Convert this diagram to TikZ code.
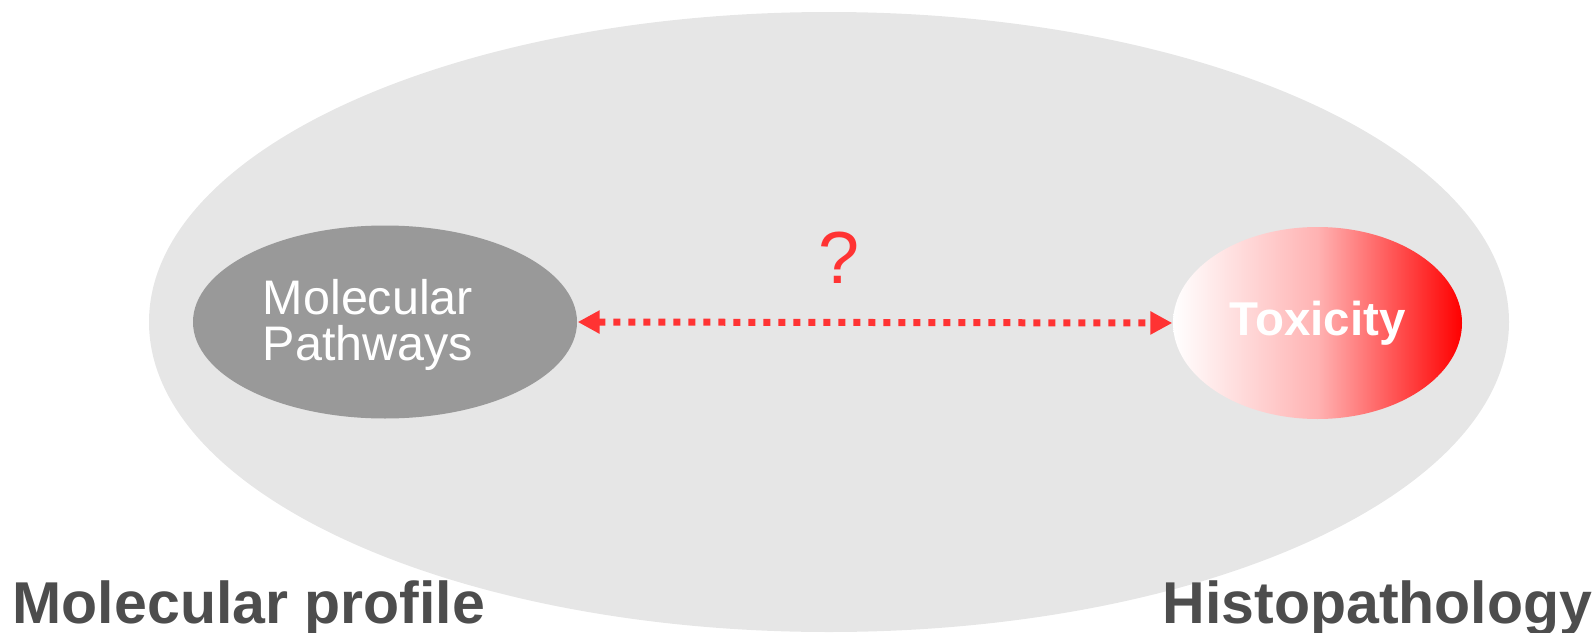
\documentclass[tikz,border=0pt]{standalone}
\usepackage{fontspec}
\setmainfont{Liberation Sans}
\usepackage{tikz}
\usetikzlibrary{arrows.meta,positioning,shapes.geometric}
\usepackage{xcolor}
\definecolor{ovalgray}{RGB}{230,230,230}
\definecolor{pathgray}{RGB}{153,153,153}
\definecolor{linkred}{RGB}{255,51,51}
\definecolor{labelgray}{RGB}{77,77,77}
\tikzset{
  bigoval/.style={ellipse, fill=ovalgray, minimum width=13.6cm, minimum height=6.2cm, inner sep=0pt},
  pathoval/.style={ellipse, fill=pathgray, minimum width=3.84cm, minimum height=1.93cm, inner sep=0pt},
  toxoval/.style={ellipse, left color=white, right color=red, middle color=red!30,
                  minimum width=2.89cm, minimum height=1.92cm, inner sep=0pt,
                  text=white, font=\fontsize{13.5}{16}\selectfont\bfseries},
  pathtext/.style={text=white, align=left, inner sep=0pt, font=\fontsize{13.8}{13}\selectfont},
  sidelabel/.style={text=labelgray, inner sep=0pt, font=\fontsize{16.8}{20}\selectfont\bfseries},
  qmark/.style={text=linkred, inner sep=0pt, font=\fontsize{21}{24}\selectfont},
  linkarrow/.style={{Triangle[length=0.22cm, width=0.22cm]}-{Triangle[length=0.22cm, width=0.22cm]},
                    linkred, line width=0.07cm, dash pattern=on 0.07cm off 0.08cm},
}
\begin{document}
\begin{tikzpicture}
\useasboundingbox (0,0) rectangle (15.93,-6.32);
\node[bigoval] (big) at (8.29,-3.22) {};
\node[pathoval] (path) at (3.85,-3.22) {};
\node[pathtext] (pathlbl) at (3.68,-3.25) {Molecular\\Pathways};
\node[toxoval] (tox) at (13.175,-3.23) {Toxicity};
\draw[linkarrow] (path.east) -- (tox.west);
\node[qmark, anchor=base] (q) at (8.39,-2.83) {?};
\node[sidelabel, anchor=base west] (molprof) at (0.12,-6.23) {Molecular profile};
\node[sidelabel, anchor=base east] (histo) at (15.93,-6.23) {Histopathology};
\end{tikzpicture}
\end{document}
